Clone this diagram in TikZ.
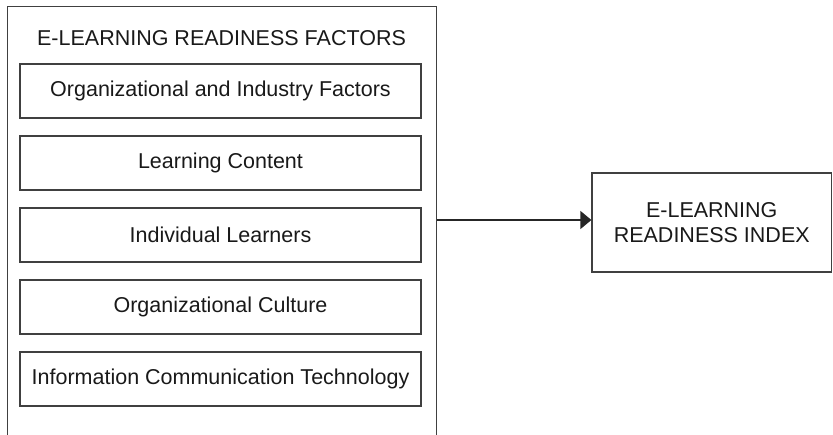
\documentclass[tikz,border=0pt]{standalone}
\usepackage{fontspec}
\setmainfont{Liberation Sans}
\usetikzlibrary{arrows.meta,positioning}

\begin{document}
\begin{tikzpicture}[x=1pt,y=-1pt,
  every node/.style={font=\fontsize{21.5}{25}\selectfont, text=black!90},
  frame/.style={draw=black!75, line width=1.2pt},
  factor/.style={frame, minimum width=401pt, minimum height=54pt, inner sep=0pt},
  flow/.style={draw=black!85, line width=1.2pt, -{Triangle[length=11pt,width=18pt]}}]
\useasboundingbox (0,0) rectangle (833,434);
\clip (0,0) rectangle (833,434);

% Outer frame with the readiness factors
\node[frame, anchor=north west, minimum width=429pt, minimum height=440pt, inner sep=0pt] (factors) at (7,6) {};
\node (title) at (221.5,38) {E-LEARNING READINESS FACTORS};
\node[factor] (org) at (220.5,91) {Organizational and Industry Factors};
\node[factor] (content) at (220.5,163) {Learning Content};
\node[factor] (learners) at (220.5,235) {Individual Learners};
\node[factor] (culture) at (220.5,307) {Organizational Culture};
\node[factor] (ict) at (220.5,379) {Information Communication Technology};

% Resulting index
\node[frame, minimum width=239.5pt, minimum height=99pt, inner sep=0pt, align=center] (index) at (711.75,222.5) {E-LEARNING\\READINESS INDEX};
\coordinate (in) at ([yshift=2.5pt]index.west);

\draw[flow] (factors.east |- in) -- (in);
\end{tikzpicture}
\end{document}
